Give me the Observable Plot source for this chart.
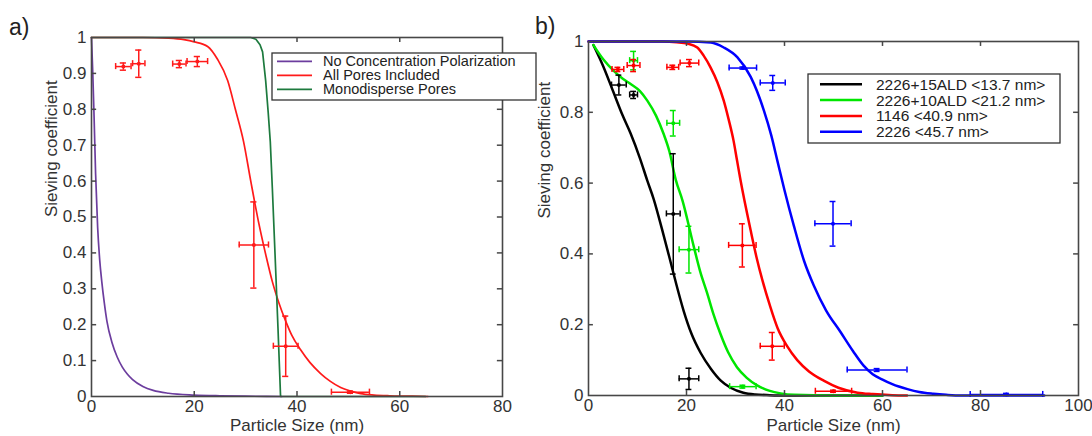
<!DOCTYPE html>
<html>
<head>
<meta charset="utf-8">
<script src="https://cdn.jsdelivr.net/npm/d3@7"></script>
<script src="https://cdn.jsdelivr.net/npm/@observablehq/plot@0.6"></script>
<style>
  html, body { margin: 0; padding: 0; background: #fff; }
  #wrap { position: relative; width: 1092px; height: 436px; overflow: hidden; font-family: 'Liberation Sans', Arial, Helvetica, sans-serif; }
  #pa, #pb, #ov { position: absolute; top: 0; }
  #pa { left: 0; width: 546px; }
  #pb { left: 520px; width: 572px; }
  #ov { left: 0; width: 1092px; height: 436px; pointer-events: none; }
  svg { overflow: visible; }
</style>
</head>
<body>
<div id="wrap">
  <div id="pa"></div>
  <div id="pb"></div>
  <svg id="ov" width="1092" height="436"></svg>
</div>
<script>
// ---------- Panel a data ----------
const xTicksA = [0, 20, 40, 60, 80];
const yTicksA = [0, 0.1, 0.2, 0.3, 0.4, 0.5, 0.6, 0.7, 0.8, 0.9, 1];

const purpleX = [0, 0.25, 0.5, 0.8, 1.2, 1.6, 2, 2.5, 3, 4, 5, 6, 7, 8, 10, 12, 15, 20, 25, 30, 37];
const purpleY = [1, 0.9, 0.78, 0.62, 0.47, 0.38, 0.32, 0.26, 0.21, 0.15, 0.11, 0.082, 0.062, 0.047, 0.028, 0.017, 0.009, 0.004, 0.002, 0.001, 0];

const redAX = [0, 10, 15, 18, 20, 22.6, 24.5, 26.5, 28, 29.6, 31, 32.6, 34, 35.2, 36.5, 37.8, 39, 40.7, 42.5, 44.6, 46.5, 48.5, 50.5, 52.4, 55, 58, 62, 65.5];
const redAY = [1, 1, 0.998, 0.994, 0.988, 0.975, 0.94, 0.88, 0.8, 0.71, 0.6, 0.48, 0.39, 0.32, 0.26, 0.21, 0.17, 0.13, 0.095, 0.064, 0.042, 0.025, 0.015, 0.008, 0.004, 0.002, 0.001, 0];

const greenAX = [0, 31, 32, 32.8, 33.3, 33.9, 34.4, 34.8, 35.2, 35.8, 36.3, 36.8, 40, 50, 65];
const greenAY = [1, 1, 0.995, 0.98, 0.96, 0.88, 0.79, 0.71, 0.58, 0.37, 0.19, 0, 0, 0, 0];

const ptsAX = [6.2, 9.2, 17.1, 20.6, 31.6, 37.8, 50.4];
const ptsAY = [0.919, 0.927, 0.926, 0.933, 0.422, 0.14, 0.012];
const ptsAXe = [1.5, 1.2, 1.3, 2, 2.85, 2.4, 3.7];
const ptsAYe = [0.01, 0.038, 0.01, 0.014, 0.12, 0.084, 0.003];

const legendA = ["No Concentration Polarization", "All Pores Included", "Monodisperse Pores"];
const colorsA = ["#6c3d9e", "#ff1a1a", "#1d7a3e"];

// ---------- Panel b data ----------
const xTicksB = [0, 20, 40, 60, 80, 100];
const yTicksB = [0, 0.2, 0.4, 0.6, 0.8, 1];

const blackX = [1, 3, 5, 7, 8.6, 10.5, 12, 13.3, 15, 16.7, 18, 19.4, 21, 22.9, 25, 27, 29, 31.6, 34, 37, 40, 50, 60];
const blackY = [0.99, 0.93, 0.86, 0.79, 0.74, 0.67, 0.607, 0.555, 0.47, 0.38, 0.31, 0.24, 0.175, 0.12, 0.075, 0.042, 0.022, 0.008, 0.003, 0.001, 0, 0, 0];

const greenBX = [1, 3, 5.1, 7, 8.6, 10.5, 12, 13.8, 15.3, 16.5, 17.8, 19.2, 21.5, 22.8, 24.2, 25.5, 26.9, 28.5, 30.3, 32.3, 34.5, 37, 39.2, 42, 50, 60];
const greenBY = [0.99, 0.95, 0.918, 0.895, 0.88, 0.86, 0.833, 0.79, 0.74, 0.69, 0.61, 0.55, 0.42, 0.35, 0.29, 0.23, 0.175, 0.122, 0.08, 0.05, 0.028, 0.013, 0.006, 0.002, 0, 0];

const redBX = [0, 15, 18, 20.2, 22.2, 23.5, 24.9, 26.3, 27.6, 28.6, 29.6, 30.3, 31, 33.1, 34.3, 35.5, 37, 38.6, 40.5, 42.6, 45, 48, 51, 54.9, 58, 62, 65];
const redBY = [1, 1, 0.998, 0.994, 0.983, 0.96, 0.927, 0.885, 0.833, 0.78, 0.72, 0.665, 0.61, 0.466, 0.39, 0.325, 0.255, 0.19, 0.14, 0.1, 0.068, 0.042, 0.022, 0.008, 0.004, 0.001, 0];

const blueX = [0, 20, 25, 27.6, 30.4, 33.1, 35.8, 37.3, 38.6, 40, 41.9, 44, 46, 48.5, 51.4, 54, 56.1, 58, 60, 62, 65.1, 67.5, 70.4, 73, 76, 93];
const blueY = [1, 1, 0.997, 0.983, 0.955, 0.9, 0.805, 0.735, 0.66, 0.58, 0.48, 0.38, 0.31, 0.24, 0.18, 0.125, 0.085, 0.06, 0.045, 0.032, 0.018, 0.01, 0.005, 0.002, 0, 0];

const ptsBlackX = [6.2, 9.2, 17.3, 20.5];
const ptsBlackY = [0.877, 0.849, 0.513, 0.047];
const ptsBlackXe = [1.5, 0.8, 1.4, 2];
const ptsBlackYe = [0.028, 0.01, 0.17, 0.03];

const ptsGreenX = [9.2, 17.3, 20.5, 31.5];
const ptsGreenY = [0.946, 0.769, 0.412, 0.025];
const ptsGreenXe = [0.8, 1.3, 2, 2.7];
const ptsGreenYe = [0.026, 0.036, 0.066, 0.004];

const ptsRedX = [6, 9.2, 17.2, 20.6, 31.4, 37.5, 50];
const ptsRedY = [0.921, 0.932, 0.927, 0.939, 0.424, 0.139, 0.012];
const ptsRedXe = [1.2, 1.3, 1.2, 1.9, 2.8, 2.45, 3.7];
const ptsRedYe = [0.006, 0.017, 0.006, 0.01, 0.061, 0.039, 0.003];

const ptsBlueX = [31.5, 37.6, 49.9, 58.9, 85.3];
const ptsBlueY = [0.925, 0.883, 0.485, 0.072, 0.003];
const ptsBlueXe = [2.8, 2.55, 3.7, 6.1, 7.4];
const ptsBlueYe = [0.003, 0.021, 0.063, 0.004, 0.003];

const legendB = ["2226+15ALD <13.7 nm>", "2226+10ALD <21.2 nm>", "1146 <40.9 nm>", "2226 <45.7 nm>"];
const colorsB = ["#000000", "#00e600", "#ff0000", "#0000ff"];

// ---------- helpers ----------
const FONT = "'Liberation Sans', Arial, Helvetica, sans-serif";
const AXIS = "#474747";
const TEXT = "#333";
const table = (xs, ys) => xs.map((x, i) => ({x, y: ys[i]}));
const errTable = (xs, ys, xe, ye) => xs.map((x, i) => ({x, y: ys[i], xe: xe[i], ye: ye[i]}));
const fmtY = d => (d === 0 ? "0" : d === 1 ? "1" : d.toFixed(1));

function errMarks(rows, color, capX, capY) {
  const o = {stroke: color, strokeWidth: 1.5};
  return [
    Plot.ruleY(rows, {y: "y", x1: d => d.x - d.xe, x2: d => d.x + d.xe, ...o}),
    Plot.ruleX(rows, {x: "x", y1: d => d.y - d.ye, y2: d => d.y + d.ye, ...o}),
    Plot.ruleX(rows, {x: d => d.x - d.xe, y1: d => d.y - capY, y2: d => d.y + capY, ...o}),
    Plot.ruleX(rows, {x: d => d.x + d.xe, y1: d => d.y - capY, y2: d => d.y + capY, ...o}),
    Plot.ruleY(rows, {y: d => d.y - d.ye, x1: d => d.x - capX, x2: d => d.x + capX, ...o}),
    Plot.ruleY(rows, {y: d => d.y + d.ye, x1: d => d.x - capX, x2: d => d.x + capX, ...o}),
    Plot.dot(rows, {x: "x", y: "y", r: 2, fill: color, stroke: "none"})
  ];
}

function innerTicks(xt, yt, xmax, tx, ty) {
  const o = {stroke: AXIS, strokeWidth: 1.5};
  const xi = xt.slice(1, -1), yi = yt.slice(1, -1);
  return [
    Plot.ruleX(xi, {x: d => d, y1: 0, y2: ty, ...o}),
    Plot.ruleX(xi, {x: d => d, y1: 1 - ty, y2: 1, ...o}),
    Plot.ruleY(yi, {y: d => d, x1: 0, x2: tx, ...o}),
    Plot.ruleY(yi, {y: d => d, x1: xmax - tx, x2: xmax, ...o})
  ];
}

// ---------- Panel a ----------
const plotA = Plot.plot({
  width: 546, height: 436,
  marginLeft: 91, marginRight: 44, marginTop: 37, marginBottom: 40,
  style: {fontFamily: FONT, fontSize: "17px", color: TEXT, background: "transparent", overflow: "visible"},
  x: {domain: [0, 80], ticks: xTicksA, tickSize: 0, tickPadding: 3, label: null},
  y: {domain: [0, 1], ticks: yTicksA, tickSize: 0, tickPadding: 5, tickFormat: fmtY, label: null},
  marks: [
    Plot.line(table(purpleX, purpleY), {x: "x", y: "y", stroke: colorsA[0], strokeWidth: 1.7, curve: "monotone-x"}),
    Plot.line(table(redAX, redAY), {x: "x", y: "y", stroke: colorsA[1], strokeWidth: 1.7, curve: "monotone-x"}),
    Plot.line(table(greenAX, greenAY), {x: "x", y: "y", stroke: colorsA[2], strokeWidth: 1.7, curve: "linear"}),
    ...errMarks(errTable(ptsAX, ptsAY, ptsAXe, ptsAYe), "#ff1a1a", 0.6, 0.0085),
    Plot.frame({stroke: AXIS, strokeWidth: 1.6}),
    ...innerTicks(xTicksA, yTicksA, 80, 1.0, 0.014),
    Plot.text(["Particle Size (nm)"], {frameAnchor: "bottom", dy: 34, fontSize: 17, fill: TEXT}),
    Plot.text(["Sieving coefficient"], {frameAnchor: "left", dx: -40, rotate: -90, fontSize: 17, fill: TEXT})
  ]
});
document.getElementById("pa").appendChild(plotA);

// ---------- Panel b ----------
const plotB = Plot.plot({
  width: 572, height: 436,
  marginLeft: 68, marginRight: 14, marginTop: 41, marginBottom: 41,
  style: {fontFamily: FONT, fontSize: "17px", color: TEXT, background: "transparent", overflow: "visible"},
  x: {domain: [0, 100], ticks: xTicksB, tickSize: 0, tickPadding: 3, label: null},
  y: {domain: [0, 1], ticks: yTicksB, tickSize: 0, tickPadding: 5, tickFormat: fmtY, label: null},
  marks: [
    Plot.line(table(blackX, blackY), {x: "x", y: "y", stroke: colorsB[0], strokeWidth: 2.5, curve: "monotone-x"}),
    Plot.line(table(greenBX, greenBY), {x: "x", y: "y", stroke: colorsB[1], strokeWidth: 2.5, curve: "monotone-x"}),
    Plot.line(table(redBX, redBY), {x: "x", y: "y", stroke: colorsB[2], strokeWidth: 2.5, curve: "monotone-x"}),
    Plot.line(table(blueX, blueY), {x: "x", y: "y", stroke: colorsB[3], strokeWidth: 2.5, curve: "monotone-x"}),
    ...errMarks(errTable(ptsBlackX, ptsBlackY, ptsBlackXe, ptsBlackYe), colorsB[0], 0.6, 0.0085),
    ...errMarks(errTable(ptsGreenX, ptsGreenY, ptsGreenXe, ptsGreenYe), colorsB[1], 0.6, 0.0085),
    ...errMarks(errTable(ptsRedX, ptsRedY, ptsRedXe, ptsRedYe), colorsB[2], 0.6, 0.0085),
    ...errMarks(errTable(ptsBlueX, ptsBlueY, ptsBlueXe, ptsBlueYe), colorsB[3], 0.6, 0.0085),
    Plot.frame({stroke: AXIS, strokeWidth: 1.6}),
    ...innerTicks(xTicksB, yTicksB, 100, 1.0, 0.014),
    Plot.text(["Particle Size (nm)"], {frameAnchor: "bottom", dy: 35, fontSize: 17, fill: TEXT}),
    Plot.text(["Sieving coefficient"], {frameAnchor: "left", dx: -44, rotate: -90, fontSize: 17, fill: TEXT})
  ]
});
document.getElementById("pb").appendChild(plotB);

// ---------- Overlay: panel labels and legends ----------
const ov = d3.select("#ov").style("font-family", FONT);
ov.append("text").attr("x", 9).attr("y", 35).attr("font-size", 23).attr("fill", "#222").text("a)");
ov.append("text").attr("x", 535).attr("y", 34).attr("font-size", 23).attr("fill", "#222").text("b)");

const la = ov.append("g");
la.append("rect").attr("x", 272).attr("y", 53).attr("width", 264).attr("height", 47)
  .attr("fill", "#fff").attr("stroke", "#333").attr("stroke-width", 1.3);
legendA.forEach((t, i) => {
  const y = 61.4 + i * 14;
  la.append("line").attr("x1", 277).attr("x2", 312).attr("y1", y).attr("y2", y)
    .attr("stroke", colorsA[i]).attr("stroke-width", 1.7);
  la.append("text").attr("x", 323).attr("y", y + 5).attr("font-size", 14.5).attr("fill", "#222").text(t);
});

const lb = ov.append("g");
lb.append("rect").attr("x", 808).attr("y", 74).attr("width", 252).attr("height", 69)
  .attr("fill", "#fff").attr("stroke", "#333").attr("stroke-width", 1.3);
legendB.forEach((t, i) => {
  const y = 84.3 + i * 15.8;
  lb.append("line").attr("x1", 820).attr("x2", 862).attr("y1", y).attr("y2", y)
    .attr("stroke", colorsB[i]).attr("stroke-width", 2.5);
  lb.append("text").attr("x", 876).attr("y", y + 5.5).attr("font-size", 15.5).attr("fill", "#222").text(t);
});
</script>
</body>
</html>
